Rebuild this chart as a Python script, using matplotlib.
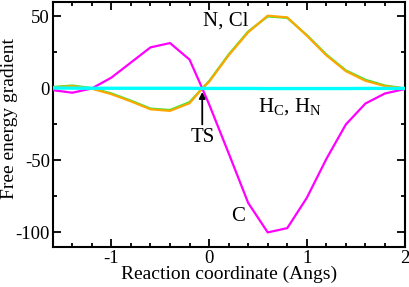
import matplotlib
matplotlib.use("Agg")
import matplotlib.pyplot as plt
from matplotlib.ticker import MultipleLocator

plt.rcParams['font.family'] = ['Liberation Serif', 'DejaVu Serif']
plt.rcParams['mathtext.fontset'] = 'custom'
plt.rcParams['mathtext.rm'] = 'Liberation Serif'
plt.rcParams['axes.unicode_minus'] = False

x = [-1.6, -1.4, -1.2, -1.0, -0.8, -0.6, -0.4, -0.2, -0.07, 0.0, 0.2, 0.4, 0.6, 0.8, 1.0, 1.2, 1.4, 1.6, 1.8, 2.0]
c_grad = [-1.2, -3.0, 0.0, 7.5, 18.0, 28.5, 31.5, 20.0, 0.0, -11.0, -45.0, -79.5, -100.0, -97.0, -76.0, -49.0, -25.0, -10.5, -3.5, -0.5]
n_grad = [1.0, 2.0, 0.2, -3.5, -8.5, -14.0, -15.0, -9.5, 0.0, 5.0, 23.5, 39.5, 50.0, 49.0, 37.0, 23.5, 12.5, 6.0, 2.0, 0.0]
cl_grad = [0.7, 1.6, -0.2, -4.0, -9.0, -14.5, -15.6, -10.3, 0.0, 4.6, 23.0, 39.0, 50.5, 49.3, 36.7, 23.0, 12.0, 5.3, 1.6, 0.0]
h_grad = [0.3, 0.2, 0.1, 0.1, 0.1, 0.1, 0.1, 0.1, 0.0, 0.0, 0.0, 0.0, -0.1, -0.1, -0.1, -0.1, -0.1, 0.0, 0.0, 0.0]

fig = plt.figure(figsize=(4.09, 2.87), dpi=100)
ax = fig.add_axes([0.129, 0.140, 0.860, 0.853])

ax.plot(x, c_grad, color='#ff00ff', lw=1.6, zorder=3)
ax.plot(x, n_grad, color='#33ee33', lw=1.6, zorder=4)
ax.plot(x, cl_grad, color='#ffa500', lw=1.6, zorder=5)
ax.plot(x, h_grad, color='#00ffff', lw=2.4, zorder=6)

ax.set_xlim(-1.6, 2.0)
ax.set_ylim(-110, 60)
ax.xaxis.set_major_locator(MultipleLocator(1))
ax.xaxis.set_minor_locator(MultipleLocator(0.2))
ax.yaxis.set_major_locator(MultipleLocator(50))
ax.yaxis.set_minor_locator(MultipleLocator(25))
ax.tick_params(which='both', direction='in', top=True, right=True, width=1.3,
               labelsize=13.5, pad=2)
ax.tick_params(which='major', length=6)
ax.tick_params(which='minor', length=3)
for s in ax.spines.values():
    s.set_linewidth(1.5)

ax.set_xlabel('Reaction coordinate (Angs)', fontsize=14, labelpad=-1)
ax.set_ylabel('Free energy gradient', fontsize=14, va='center')
ax.yaxis.set_label_coords(-0.124, 0.524)

ax.text(0.17, 47, 'N, Cl', fontsize=15, ha='center', va='center')
ax.text(0.83, -13, r'H$_\mathrm{C}$, H$_\mathrm{N}$', fontsize=15, ha='center', va='center')
ax.text(-0.07, -34, 'TS', fontsize=15, ha='center', va='center')
ax.text(0.30, -89, 'C', fontsize=15, ha='center', va='center')
ax.annotate('', xy=(-0.07, -2.5), xytext=(-0.07, -25),
            arrowprops=dict(arrowstyle='-|>', color='black', lw=1.3,
                            mutation_scale=9, shrinkA=0, shrinkB=0), zorder=7)

fig.savefig('out.png', dpi=100)
